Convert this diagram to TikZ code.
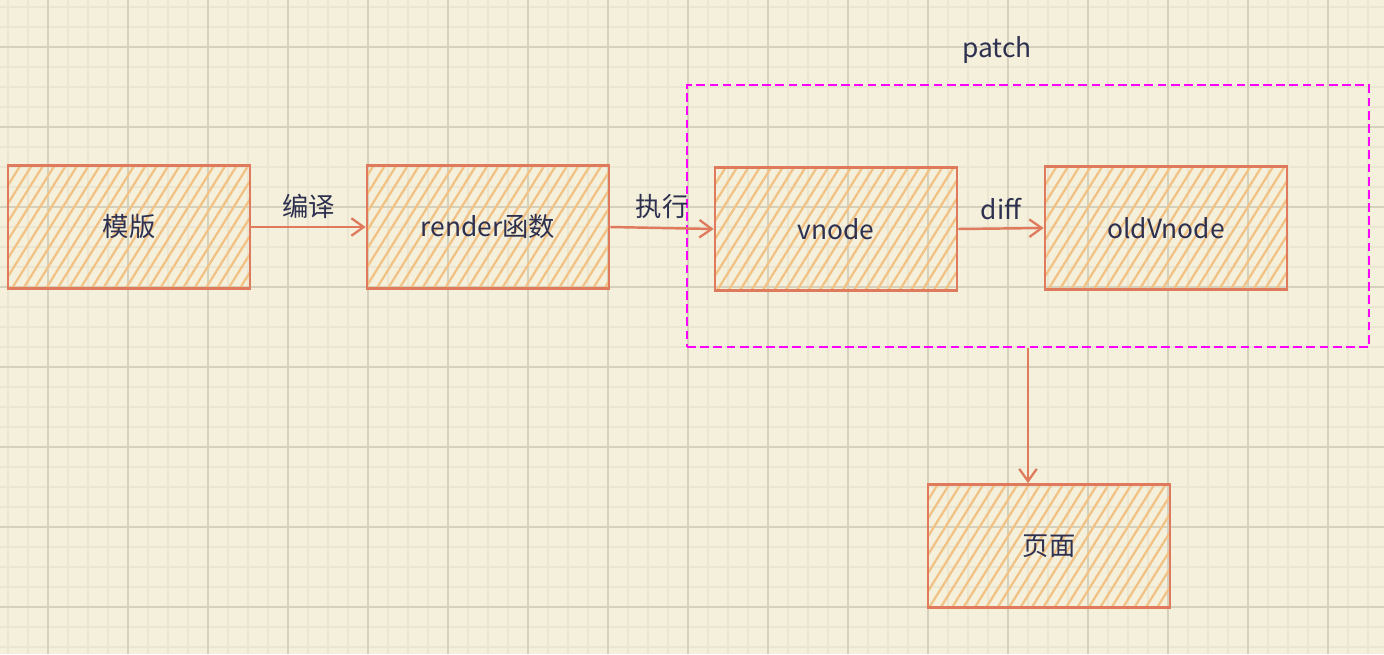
\documentclass[tikz,border=0pt]{standalone}
\usepackage{fontspec}
\setmainfont{Noto Sans CJK SC}
\usepackage{tikz}
\usetikzlibrary{arrows.meta,patterns.meta}
\definecolor{paper}{HTML}{F4F0DC}
\definecolor{gridmaj}{HTML}{D6D1BC}
\definecolor{gridmin}{HTML}{EAE6D2}
\definecolor{stroke}{HTML}{E07A5C}
\definecolor{hatch}{HTML}{F2C285}
\definecolor{ink}{HTML}{2E3050}
\definecolor{magenta}{HTML}{FF00FF}
\tikzset{
  minor/.style={draw=gridmin, line width=0.8pt},
  major/.style={draw=gridmaj, line width=0.8pt},
  box/.style={draw=stroke, line width=1.6pt, minimum width=4.84cm, minimum height=2.46cm,
    pattern={Lines[angle=58, distance=5.5pt, line width=1.3pt]}, pattern color=hatch,
    text=ink, font=\fontsize{15}{17}\selectfont},
  flow/.style={draw=stroke, line width=1.4pt, -{Straight Barb[length=7pt, width=10pt, line width=1.3pt]}},
  patchbox/.style={draw=magenta, line width=1.5pt, dash pattern=on 5pt off 2.5pt,
    minimum width=13.64cm, minimum height=5.24cm},
  lab/.style={text=ink, font=\fontsize{15}{17}\selectfont},
}

\begin{document}
\begin{tikzpicture}[x=0.02cm, y=-0.02cm]
  \useasboundingbox (0,0) rectangle (1384,654);
  \fill[paper] (0,0) rectangle (1384,654);

  % grid paper
  \foreach \gx in {8,28,...,1384} \draw[minor] (\gx,0) -- (\gx,654);
  \foreach \gy in {7,27,...,654} \draw[minor] (0,\gy) -- (1384,\gy);
  \foreach \gx in {48,128,...,1384} \draw[major] (\gx,0) -- (\gx,654);
  \foreach \gy in {47,127,...,654} \draw[major] (0,\gy) -- (1384,\gy);

  \node[box] (tpl) at (129,227) {模版};
  \node[box] (render) at (488,227) {render函数};
  \node[box] (vnode) at (836,229) {vnode};
  \node[box] (old) at (1166,228) {oldVnode};
  \node[box] (page) at (1049,546) {页面};

  \node[patchbox] (patch) at (1028,216) {};
  \node[lab] (patchlab) at (997,50) {patch};

  \draw[flow] (tpl.east) -- node[lab, above=1pt] {编译} (render.west);
  \draw[flow] (render.east) -- node[lab, above=1pt] {执行} (vnode.west);
  \draw[flow] (vnode.east) -- node[lab, above=1pt] {diff} (old.west);
  \draw[flow] (patch.south) -- (patch.south |- page.north);
\end{tikzpicture}
\end{document}
